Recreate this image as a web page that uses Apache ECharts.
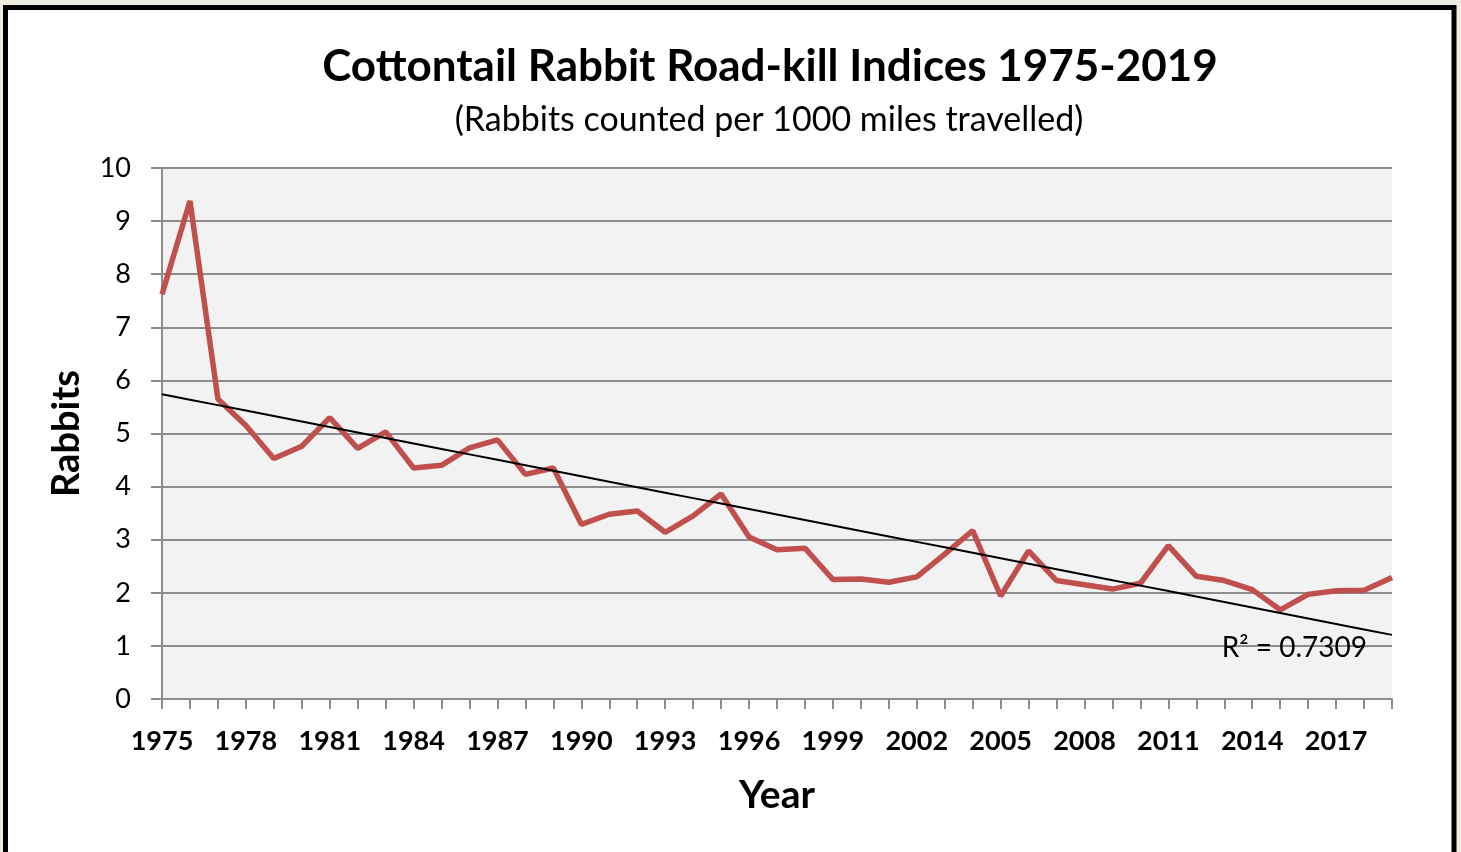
<!DOCTYPE html>
<html>
<head>
<meta charset="utf-8">
<title>Cottontail Rabbit Road-kill Indices 1975-2019</title>
<script src="https://cdn.jsdelivr.net/npm/echarts@6/dist/echarts.min.js"></script>
<style>
  html, body { margin: 0; padding: 0; background: #eeece1; }
  #chart { width: 1461px; height: 852px; }
</style>
</head>
<body>
<div id="chart"></div>
<script>
// 数据：年份与每千英里计数的兔子数
const years = [];
for (let y = 1975; y <= 2019; y++) years.push(String(y));

const rabbits = [
  7.62, 9.38, 5.65, 5.15, 4.53, 4.76, 5.30, 4.72, 5.03, 4.35,
  4.40, 4.73, 4.88, 4.23, 4.35, 3.29, 3.48, 3.54, 3.14, 3.45,
  3.86, 3.05, 2.81, 2.84, 2.25, 2.26, 2.20, 2.30, 2.73, 3.17,
  1.94, 2.79, 2.23, 2.15, 2.07, 2.18, 2.89, 2.31, 2.23, 2.06,
  1.68, 1.97, 2.04, 2.05, 2.29
];

const yTicks = [0, 1, 2, 3, 4, 5, 6, 7, 8, 9, 10];
const r2Label = 'R² = 0.7309';

// 线性趋势线（最小二乘）
function linearTrend(vals) {
  const n = vals.length;
  let sx = 0, sy = 0, sxy = 0, sxx = 0;
  vals.forEach((v, i) => { sx += i; sy += v; sxy += i * v; sxx += i * i; });
  const b = (n * sxy - sx * sy) / (n * sxx - sx * sx);
  const a = (sy - b * sx) / n;
  return vals.map((v, i) => +(a + b * i).toFixed(4));
}
const trend = linearTrend(rabbits);

const font = 'Lato, "Open Sans", sans-serif';
const myChart = echarts.init(document.getElementById('chart'));

const option = {
  backgroundColor: '#eeece1',
  animation: false,
  graphic: [
    {
      type: 'rect',
      z: -10,
      shape: { x: 5.5, y: 7.5, width: 1448.5, height: 850 },
      style: { fill: '#ffffff', stroke: '#000000', lineWidth: 5 }
    }
  ],
  title: [
    {
      text: 'Cottontail Rabbit Road-kill Indices 1975-2019',
      left: 765, top: 40, textAlign: 'center',
      textStyle: { fontFamily: font, fontSize: 44, fontWeight: 'bold', color: '#000' }
    },
    {
      text: '(Rabbits counted per 1000 miles travelled)',
      left: 764, top: 98, textAlign: 'center',
      textStyle: { fontFamily: font, fontSize: 34, fontWeight: 'normal', color: '#000' }
    }
  ],
  grid: { left: 162, right: 69, top: 168, bottom: 153, containLabel: false,
          show: true, backgroundColor: '#f2f2f2', borderWidth: 0 },
  xAxis: {
    type: 'category',
    data: years,
    boundaryGap: false,
    name: 'Year',
    nameLocation: 'middle',
    nameGap: 77,
    nameTextStyle: { fontFamily: font, fontSize: 39, fontWeight: 'bold', color: '#000' },
    axisLine: { lineStyle: { color: '#8c8c8c', width: 2 } },
    axisTick: { show: true, interval: 0, length: 10, lineStyle: { color: '#8c8c8c', width: 2 } },
    axisLabel: { interval: 2, margin: 29, fontFamily: font, fontSize: 27, fontWeight: 'bold', color: '#000' },
    splitLine: { show: false }
  },
  yAxis: {
    type: 'value',
    min: yTicks[0],
    max: yTicks[yTicks.length - 1],
    interval: 1,
    name: 'Rabbits',
    nameLocation: 'middle',
    nameGap: 76,
    nameRotate: 90,
    nameTextStyle: { fontFamily: font, fontSize: 38, fontWeight: 'bold', color: '#000' },
    axisLine: { show: true, lineStyle: { color: '#8c8c8c', width: 2 } },
    axisTick: { show: true, inside: false, length: 11, lineStyle: { color: '#8c8c8c', width: 2 } },
    axisLabel: { margin: 31, fontFamily: font, fontSize: 27, color: '#000' },
    splitLine: { show: true, lineStyle: { color: '#8c8c8c', width: 2 } }
  },
  series: [
    {
      name: 'Rabbits',
      type: 'line',
      data: rabbits,
      symbol: 'none',
      lineStyle: { color: '#c0504d', width: 5.5 },
      z: 3
    },
    {
      name: 'Trend',
      type: 'line',
      data: trend,
      symbol: 'none',
      lineStyle: { color: '#000', width: 2 },
      z: 4,
      markPoint: {
        symbol: 'circle',
        symbolSize: 0,
        data: [{
          coord: [years[years.length - 1], trend[trend.length - 1]],
          label: {
            show: true, position: 'left', distance: 25, offset: [0, 13],
            formatter: r2Label, fontFamily: font, fontSize: 28, color: '#000'
          }
        }]
      }
    }
  ]
};

myChart.setOption(option);
window.onresize = () => { myChart.resize(); };
</script>
</body>
</html>
